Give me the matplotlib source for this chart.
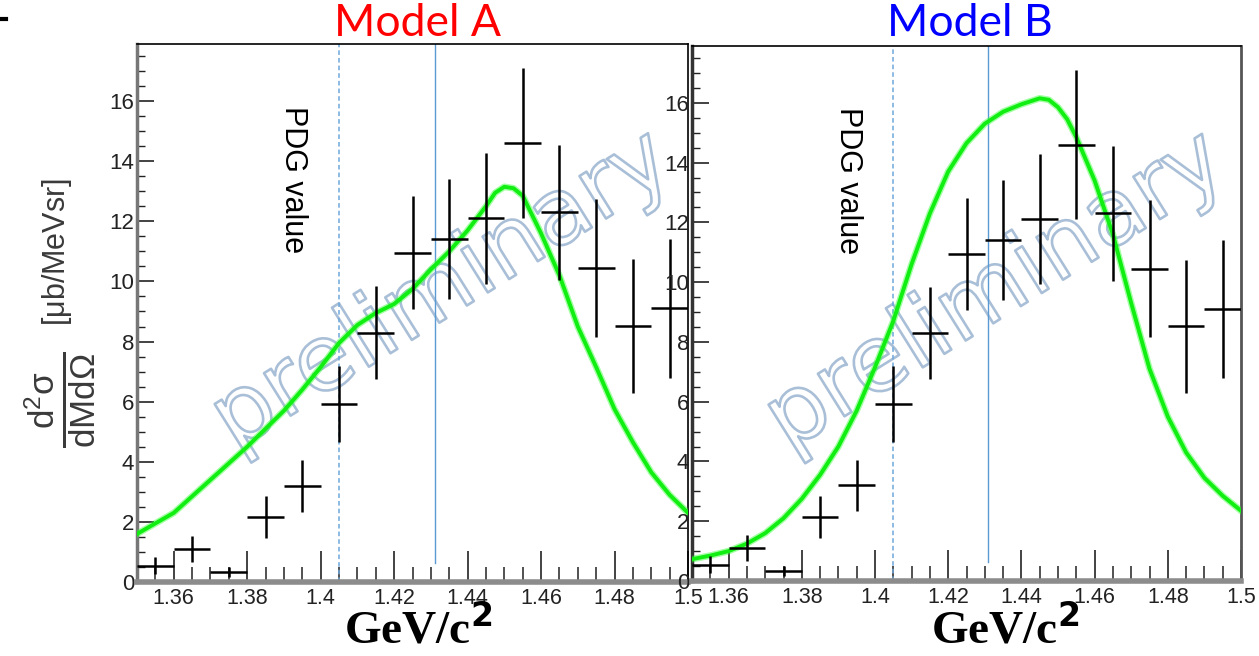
import numpy as np
import matplotlib.pyplot as plt
import matplotlib.patheffects as pe
from matplotlib.lines import Line2D
from matplotlib.ticker import MultipleLocator, FuncFormatter

plt.rcParams['font.family'] = ['Liberation Sans', 'DejaVu Sans']
plt.rcParams['mathtext.fontset'] = 'custom'
plt.rcParams['mathtext.rm'] = 'Liberation Sans'
plt.rcParams['mathtext.it'] = 'Liberation Sans'

# measured points (same in both panels)
mass = [1.355, 1.365, 1.375, 1.385, 1.395, 1.405, 1.415, 1.425,
        1.435, 1.445, 1.455, 1.465, 1.475, 1.485, 1.495]
xsec = [0.54, 1.1, 0.34, 2.15, 3.2, 5.92, 8.3, 10.95,
        11.4, 12.1, 14.6, 12.3, 10.45, 8.52, 9.1]
xsec_err = [0.28, 0.43, 0.17, 0.7, 0.86, 1.27, 1.55, 1.88,
            2.0, 2.17, 2.5, 2.25, 2.3, 2.22, 2.32]
bin_half = 0.005

# model curves
model_mass = [1.350, 1.355, 1.360, 1.365, 1.370, 1.375, 1.380, 1.385,
              1.390, 1.395, 1.400, 1.405, 1.410, 1.415, 1.420, 1.425,
              1.430, 1.435, 1.440, 1.445, 1.4475, 1.450, 1.4525, 1.455,
              1.460, 1.465, 1.470, 1.475, 1.480, 1.485, 1.490, 1.495, 1.500]
model_a = [1.6, 1.95, 2.3, 2.85, 3.4, 3.95, 4.5, 5.1,
           5.7, 6.4, 7.15, 7.95, 8.55, 8.95, 9.25, 9.75,
           10.4, 11.0, 11.7, 12.5, 12.95, 13.15, 13.1, 12.85,
           11.6, 10.2, 8.5, 7.15, 5.75, 4.65, 3.65, 2.9, 2.3]
model_b = [0.73, 0.85, 1.0, 1.25, 1.6, 2.1, 2.75, 3.55,
           4.5, 5.7, 7.15, 8.7, 10.6, 12.3, 13.7, 14.65,
           15.3, 15.7, 15.95, 16.15, 16.1, 15.85, 15.45, 14.85,
           13.4, 11.6, 9.3, 7.1, 5.5, 4.3, 3.45, 2.85, 2.35]

pdg_mass = 1.405
line_mass = 1.431

W, H = 1259, 656
fig = plt.figure(figsize=(W / 100, H / 100), dpi=100)

ax_a = fig.add_axes([137 / W, 1 - 582 / H, 551 / W, 538 / H])
ax_b = fig.add_axes([692 / W, 1 - 581 / H, 549 / W, 535 / H])


def draw_panel(ax, model):
    ax.text(1.433, 9.7, 'preliminary', family='DejaVu Sans', fontsize=66,
            rotation=32, ha='center', va='center', color='none', zorder=1,
            path_effects=[pe.Stroke(linewidth=1.9, foreground='#a9bfd7')])
    ax.axvline(pdg_mass, color='#6fa8dc', lw=1.1, ls=(0, (3, 2)), zorder=2)
    ax.axvline(line_mass, ymin=0.035, color='#5b9bd5', lw=1.0, zorder=2)
    ax.plot(model_mass, model, color='#33ff33', lw=4.8, alpha=0.45, zorder=3,
            solid_joinstyle='round')
    ax.plot(model_mass, model, color='#11ee11', lw=2.8, zorder=3,
            solid_joinstyle='round')
    ax.errorbar(mass, xsec, xerr=bin_half, yerr=xsec_err, fmt='none',
                ecolor='black', elinewidth=1.8, capsize=0, zorder=4)
    ax.text(1.3925, 13.4, 'PDG value', rotation=-90, ha='center', va='center',
            fontsize=22)

    ax.set_xlim(1.35, 1.5)
    ax.set_ylim(0, 17.9)
    ax.xaxis.set_minor_locator(MultipleLocator(0.005))
    ax.yaxis.set_major_locator(MultipleLocator(2))
    ax.yaxis.set_minor_locator(MultipleLocator(0.5))
    ax.set_xticks([1.36, 1.38, 1.40, 1.42, 1.44, 1.46, 1.48, 1.50])
    ax.xaxis.set_major_formatter(FuncFormatter(lambda v, p: '%g' % round(v, 3)))
    ax.tick_params(axis='x', which='major', direction='in', length=22,
                   width=1.2, labelsize=15.5, pad=4, colors='#222222')
    ax.tick_params(axis='x', which='minor', direction='in', length=11,
                   width=1.1, color='#222222')
    ax.tick_params(axis='y', which='major', direction='in', length=12,
                   width=1.2, labelsize=16, pad=2, colors='#222222')
    ax.tick_params(axis='y', which='minor', direction='in', length=6,
                   width=1.0, color='#222222')
    ax.spines['bottom'].set_color('#8c8c8c')
    ax.spines['bottom'].set_linewidth(4)
    ax.spines['top'].set_linewidth(1.2)
    ax.spines['left'].set_color('#777777')
    ax.spines['left'].set_linewidth(2.5)
    ax.spines['right'].set_linewidth(1.2)


draw_panel(ax_a, model_a)
draw_panel(ax_b, model_b)
ax_b.spines['left'].set_color('#333333')
ax_b.spines['right'].set_color('#555555')
ax_b.spines['right'].set_linewidth(2)

fig.text(418 / W, 1 - 24 / H, 'Model A', color='#ff0000', family='Lato',
         fontsize=32, ha='center', va='center')
fig.text(970 / W, 1 - 24 / H, 'Model B', color='#0000ff', family='Lato',
         fontsize=32, ha='center', va='center')

for xc in (418, 1005):
    fig.text(xc / W, 1 - 630 / H, r'GeV/c$^\mathbf{2}$', family='Liberation Serif',
             fontweight='bold', fontsize=34, ha='center', va='center')

# y axis title: big fraction + unit
fig.text(60 / W, 1 - 400 / H,
         r'$\frac{\mathrm{d^2\sigma}}{\mathrm{dMd\Omega}}$',
         rotation=90, ha='center', va='center', fontsize=36, color='#3a3a3a')
fig.text(57 / W, 1 - 252 / H, r'[$\mathrm{\mu}$b/MeVsr]',
         rotation=90, ha='center', va='center', fontsize=22, color='#3a3a3a')

fig.add_artist(Line2D([0, 6 / W], [1 - 19 / H, 1 - 19 / H], color='black', lw=3))

fig.savefig('out.png', dpi=100)
